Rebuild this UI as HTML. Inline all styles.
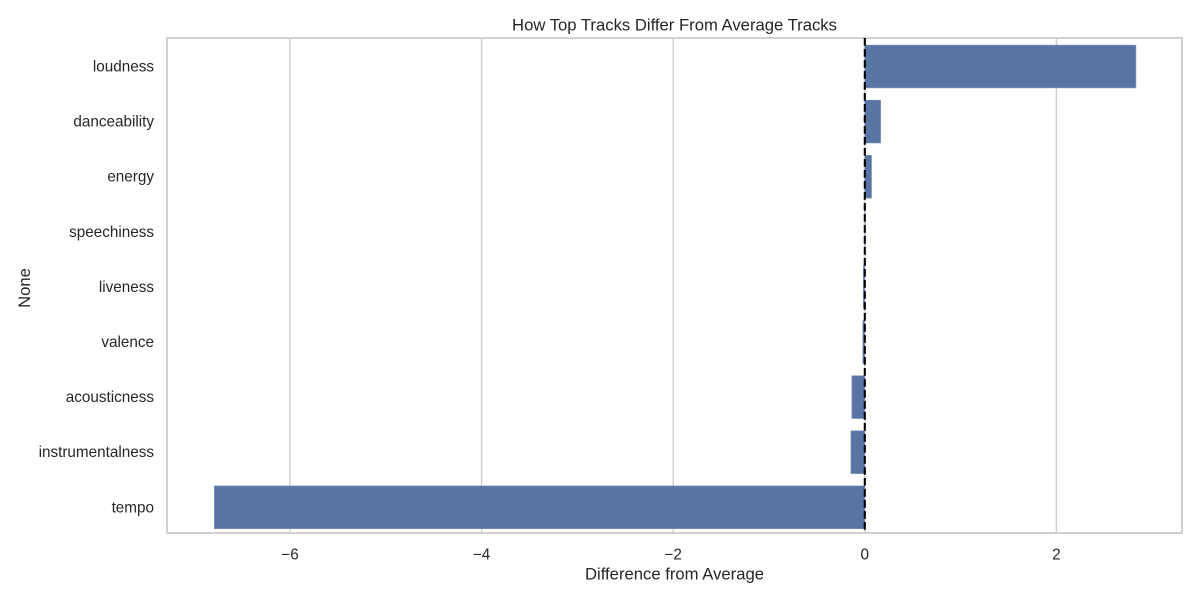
<!DOCTYPE html>
<html lang="en">
<head>
<meta charset="utf-8">
<title>How Top Tracks Differ From Average Tracks</title>
<style>
html,body{margin:0;padding:0;background:#fff;width:1200px;height:600px;overflow:hidden}
svg{display:block}
text{font-family:"Liberation Sans",Arial,sans-serif;fill:#262626}
</style>
</head>
<body>
<svg id="chart" xmlns="http://www.w3.org/2000/svg" width="1200" height="600" viewBox="0 0 1200 600">
<rect x="0" y="0" width="1200" height="600" fill="#fff"/>
<g id="grid"></g>
<g id="bars"></g>
<g id="frame">
<rect x="167" y="38" width="1015" height="495" fill="none" stroke="#cccccc" stroke-width="1.8"/>
</g>
<g id="refline"></g>
<g id="xticks"></g>
<g id="yticks"></g>
<text x="674.5" y="30.5" text-anchor="middle" font-size="16.67">How Top Tracks Differ From Average Tracks</text>
<text x="674.5" y="579.5" text-anchor="middle" font-size="16.67">Difference from Average</text>
<text transform="translate(30,288) rotate(-90)" text-anchor="middle" font-size="16.67">None</text>
</svg>
<script>
const categories = ["loudness","danceability","energy","speechiness","liveness","valence","acousticness","instrumentalness","tempo"];
const values = [2.83,0.165,0.07,0.003,-0.015,-0.02,-0.135,-0.145,-6.79];
const xTickValues = [-6,-4,-2,0,2];
const xTickLabels = ["\u22126","\u22124","\u22122","0","2"];

const NS = "http://www.w3.org/2000/svg";
const plotTop = 38, plotBottom = 533;
function xScale(v){ return 864.8 + v * 95.8; }
const band = 55.1;
function yScale(i){ return 66.5 + band * i; }
function make(tag, attrs, parent){
  const el = document.createElementNS(NS, tag);
  for (const k in attrs) el.setAttribute(k, attrs[k]);
  parent.appendChild(el);
  return el;
}
const grid = document.getElementById("grid");
const bars = document.getElementById("bars");
const xticks = document.getElementById("xticks");
const yticks = document.getElementById("yticks");
const refline = document.getElementById("refline");

xTickValues.forEach(function(v, i){
  const line = make("line", {x1:xScale(v), x2:xScale(v), y1:plotTop, y2:plotBottom, stroke:"#cccccc", "stroke-width":1.4}, grid);
  
  
  const t = make("text", {x:xScale(v), y:559.5, "text-anchor":"middle", "font-size":15.28}, xticks);
  t.textContent = xTickLabels[i];
  
  
});

categories.forEach(function(c, i){
  const x0 = xScale(0), x1 = xScale(values[i]);
  const h = 42.8;
  const r = make("rect", {x:Math.min(x0,x1), y:yScale(i)-h/2, width:Math.abs(x1-x0), height:h, fill:"#5975a4", stroke:"#7b93bb", "stroke-width":0.6}, bars);
  
  
  const t = make("text", {x:154, y:yScale(i)+5, "text-anchor":"end", "font-size":15.28}, yticks);
  t.textContent = c;
  
  
});

const zero = make("line", {x1:xScale(0), x2:xScale(0), y1:plotTop, y2:plotBottom, stroke:"#000", "stroke-width":2.1, "stroke-dasharray":"7.7 3.3"}, refline);


</script>
</body>
</html>
